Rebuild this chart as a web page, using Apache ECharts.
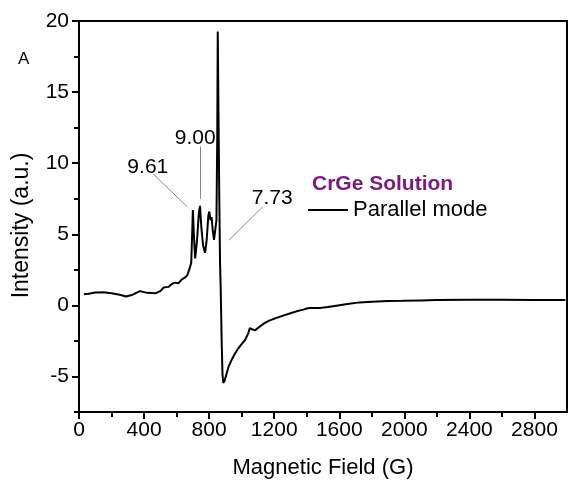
<!DOCTYPE html>
<html>
<head>
<meta charset="utf-8">
<script src="https://cdn.jsdelivr.net/npm/echarts@6/dist/echarts.min.js"></script>
<style>
  html, body { margin: 0; padding: 0; background: #fff; }
  #main { width: 568px; height: 484px; }
</style>
</head>
<body>
<div id="main"></div>
<script>
// magnetic field (G) and intensity (a.u.)
const field = [30, 60, 100, 150, 200, 250, 290, 330, 375, 420, 470, 500, 520, 550, 570, 590, 610, 630, 650, 665,
  680, 690, 697, 700, 706, 714, 725, 737, 744, 752, 763, 775, 785, 795, 801, 808, 815, 822, 830, 838,
  845, 850, 853, 857, 862, 867, 871, 877, 882, 887, 895, 908, 920, 938, 958, 979, 1000, 1020, 1040, 1050,
  1057, 1068, 1081, 1110, 1140, 1173, 1210, 1255, 1300, 1337, 1380, 1400, 1418, 1480, 1530, 1582, 1650, 1724, 1800, 1900,
  1988, 2100, 2200, 2398, 2600, 2800, 2990]
const intensity = [0.78, 0.82, 0.9, 0.92, 0.85, 0.75, 0.62, 0.75, 1.0, 0.88, 0.85, 1.0, 1.25, 1.3, 1.5, 1.6, 1.55, 1.8, 1.95, 2.1,
  2.6, 3.0, 5.5, 6.7, 5.0, 3.3, 4.5, 6.5, 7.0, 5.5, 4.2, 3.7, 4.6, 6.3, 6.6, 6.0, 6.2, 5.3, 4.6, 4.5,
  6.0, 12, 19.26, 14, 8, 3, 1.25, -2.5, -4.8, -5.46, -5.3, -4.77, -4.3, -3.84, -3.4, -3.03, -2.72, -2.45, -1.99, -1.6,
  -1.46, -1.7, -1.76, -1.5, -1.25, -1.06, -0.9, -0.72, -0.55, -0.42, -0.3, -0.22, -0.19, -0.18, -0.12, -0.02, 0.1, 0.21, 0.26, 0.3,
  0.32, 0.35, 0.37, 0.39, 0.39, 0.38, 0.37]

const xTicks = [0, 400, 800, 1200, 1600, 2000, 2400, 2800]
const xMinor = [200, 600, 1000, 1400, 1800, 2200, 2600]
const yTicks = [-5, 0, 5, 10, 15, 20]
const yMinor = [-7.5, -2.5, 2.5, 7.5, 12.5, 17.5]

// g-value labels and their leader lines (data coords)
const gLabels = ['9.61', '9.00', '7.73']
const gLabelPos = [[423, 9.69], [714, 11.77], [1188, 7.57]]
const gLines = [[[456, 9.24], [665, 6.94]], [[744, 11.18], [744, 7.5]], [[1130, 6.94], [922, 4.58]]]

const chart = echarts.init(document.getElementById('main'))
const font = 'Liberation Sans, Arial, sans-serif'
const clear = 'rgba(0,0,0,0)'

const option = {
  animation: false,
  textStyle: { fontFamily: font },
  grid: {
    left: 79, right: 1, top: 21, bottom: 68,
    show: true, borderColor: '#000', borderWidth: 2
  },
  title: {
    text: 'CrGe Solution',
    left: 307, top: 169,
    textStyle: { color: '#7d1a80', fontSize: 21, fontWeight: 'bold', fontFamily: font }
  },
  legend: {
    left: 308, top: 199, padding: 0,
    itemWidth: 40, itemHeight: 2,
    icon: 'rect',
    textStyle: { color: '#000', fontSize: 22, fontFamily: font },
    data: ['Parallel mode']
  },
  graphic: [{
    type: 'text', left: 18, top: 51,
    style: { text: 'A', fontSize: 17, fill: '#000', fontFamily: font }
  }],
  xAxis: [{
    type: 'value', min: 0, max: 3000, interval: 200,
    name: 'Magnetic Field (G)', nameLocation: 'middle', nameGap: 45,
    nameTextStyle: { fontSize: 22, color: '#000' },
    axisLine: { onZero: false, lineStyle: { color: '#000', width: 2 } },
    axisTick: { customValues: xTicks, length: 7, lineStyle: { color: '#000', width: 2 } },
    axisLabel: { customValues: xTicks, fontSize: 21, color: '#000', margin: 8, formatter: v => String(v) },
    splitLine: { show: false }
  }, {
    type: 'value', min: 0, max: 3000, interval: 200, position: 'bottom',
    axisLine: { show: true, onZero: false, lineStyle: { color: clear } },
    axisTick: { show: true, customValues: xMinor, length: 5, lineStyle: { color: '#000', width: 2 } },
    axisLabel: { show: false },
    splitLine: { show: false }
  }],
  yAxis: [{
    type: 'value', min: -7.5, max: 20, interval: 2.5,
    name: 'Intensity (a.u.)', nameLocation: 'middle', nameGap: 46,
    nameTextStyle: { fontSize: 23, color: '#000', padding: [0, 18, 0, 0] },
    axisLine: { onZero: false, lineStyle: { color: '#000', width: 2 } },
    axisTick: { customValues: yTicks, length: 7, lineStyle: { color: '#000', width: 2 } },
    axisLabel: { customValues: yTicks, fontSize: 21, color: '#000', margin: 10 },
    splitLine: { show: false }
  }, {
    type: 'value', min: -7.5, max: 20, interval: 2.5, position: 'left',
    axisLine: { show: true, onZero: false, lineStyle: { color: clear } },
    axisTick: { show: true, customValues: yMinor, length: 5, lineStyle: { color: '#000', width: 2 } },
    axisLabel: { show: false },
    splitLine: { show: false }
  }],
  series: [{
    name: 'Parallel mode',
    type: 'line',
    showSymbol: false,
    symbol: 'none',
    color: '#000',
    lineStyle: { color: '#000', width: 2 },
    data: field.map((f, i) => [f, intensity[i]]),
    markLine: {
      silent: true,
      symbol: 'none',
      label: { show: false },
      lineStyle: { color: '#888', width: 1, type: 'solid' },
      data: gLines.map(l => [{ coord: l[0] }, { coord: l[1] }])
    }
  }, {
    type: 'scatter',
    symbolSize: 0,
    silent: true,
    itemStyle: { color: '#000' },
    label: {
      show: true, position: 'inside',
      formatter: p => gLabels[p.dataIndex],
      fontSize: 21, color: '#000', fontFamily: font,
      textBorderWidth: 0, opacity: 1
    },
    data: gLabelPos
  }]
}
chart.setOption(option)
</script>
</body>
</html>
